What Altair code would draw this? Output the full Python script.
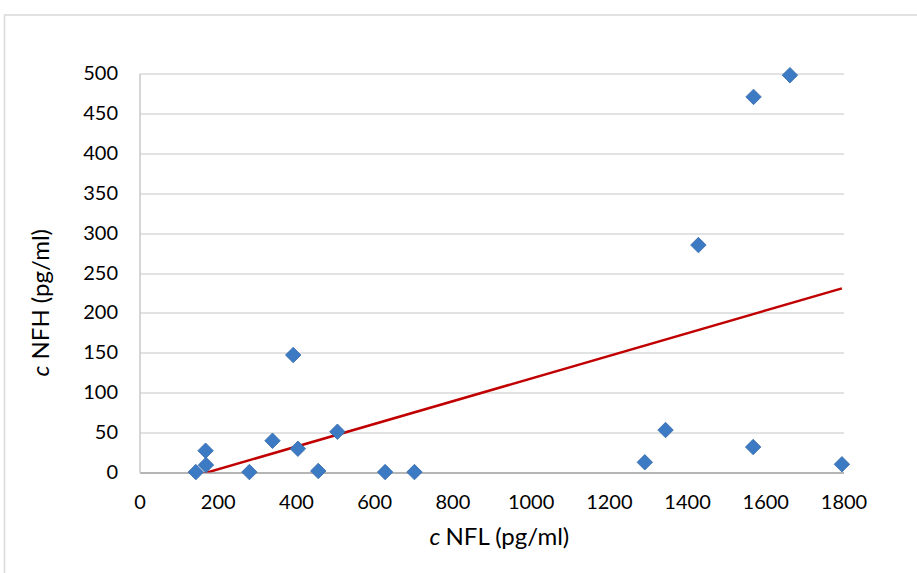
import altair as alt
import pandas as pd

# NFL vs NFH concentrations (pg/ml)
nfl = [144, 169, 170, 281, 340, 393, 405, 457, 506, 628, 703,
       1292, 1345, 1429, 1570, 1569, 1663, 1796]
nfh = [0.5, 27.3, 9.4, 0.5, 39.8, 147.2, 29.8, 1.9, 51.1, 0.5, 0.5,
       12.8, 53.2, 285, 470.7, 31.9, 497.9, 10.3]

x_ticks = [0, 200, 400, 600, 800, 1000, 1200, 1400, 1600, 1800]
y_ticks = [0, 50, 100, 150, 200, 250, 300, 350, 400, 450, 500]

df = pd.DataFrame({"nfl": nfl, "nfh": nfh})

FONT = "Lato"
W, H = 704, 399

x_scale = alt.Scale(domain=[0, 1800], nice=False, zero=True)
y_scale = alt.Scale(domain=[0, 500], nice=False, zero=True)

x_axis = alt.Axis(values=x_ticks, format="d", title=None, grid=False,
                  ticks=False, domainColor="#a6a6a6", domainWidth=1.5,
                  labelFont=FONT, labelFontSize=20, labelColor="#000000",
                  labelPadding=20, labelFlush=False, labelOverlap=False)
y_axis = alt.Axis(values=y_ticks, format="d", title=None, grid=True,
                  gridColor="#d9d9d9", gridWidth=1.5, ticks=False,
                  domainColor="#c8c8c8", domainWidth=1.5,
                  labelFont=FONT, labelFontSize=20, labelColor="#000000",
                  labelPadding=22, labelOverlap=False)

base = alt.Chart(df)

points = base.mark_point(shape="diamond", size=240, filled=True,
                         fill="#3c7bc4", stroke="#3568a8", strokeWidth=0.8,
                         opacity=1).encode(
    x=alt.X("nfl:Q", scale=x_scale, axis=x_axis),
    y=alt.Y("nfh:Q", scale=y_scale, axis=y_axis),
)

# least-squares trend line, clipped at the zero baseline
trend = base.transform_regression("nfl", "nfh").mark_line(
    color="#c00000", strokeWidth=2.5, clip=True
).encode(
    x=alt.X("nfl:Q", scale=x_scale, axis=x_axis),
    y=alt.Y("nfh:Q", scale=y_scale, axis=y_axis),
)

# outer chart frame
frame = alt.Chart(pd.DataFrame({"a": [0]})).mark_rect(
    fill=None, stroke="#d9d9d9", strokeWidth=1.5
).encode(
    x=alt.value(-135), x2=alt.value(W + 200),
    y=alt.value(-58.5), y2=alt.value(H + 300),
)

title_df = pd.DataFrame({"a": [0]})
TSIZE = 24

# x-axis title: italic "c" followed by the rest
x_title_c = alt.Chart(title_df).mark_text(
    text="c", font=FONT, fontSize=TSIZE, fontStyle="italic", align="right",
    baseline="middle", color="#000000"
).encode(x=alt.value(301), y=alt.value(464))
x_title_rest = alt.Chart(title_df).mark_text(
    text="NFL (pg/ml)", font=FONT, fontSize=TSIZE, align="left",
    baseline="middle", color="#000000"
).encode(x=alt.value(306), y=alt.value(464))

# y-axis title, rotated
y_title_c = alt.Chart(title_df).mark_text(
    text="c", font=FONT, fontSize=TSIZE, fontStyle="italic", align="right",
    baseline="middle", angle=270, color="#000000"
).encode(x=alt.value(-97.5), y=alt.value(292))
y_title_rest = alt.Chart(title_df).mark_text(
    text="NFH (pg/ml)", font=FONT, fontSize=TSIZE, align="left",
    baseline="middle", angle=270, color="#000000"
).encode(x=alt.value(-97.5), y=alt.value(286))

chart = alt.layer(
    frame, trend, points, x_title_c, x_title_rest, y_title_c, y_title_rest
).properties(
    width=W, height=H,
    autosize=alt.AutoSizeParams(type="none"),
    padding={"left": 139.5, "top": 73.5, "right": 917 - 139.5 - W,
             "bottom": 573 - 73.5 - H},
    background="#ffffff",
).configure_view(stroke=None).configure_axis(labelOverlap=False)

chart.save("out.html", embed_options={"renderer": "svg", "actions": False})
